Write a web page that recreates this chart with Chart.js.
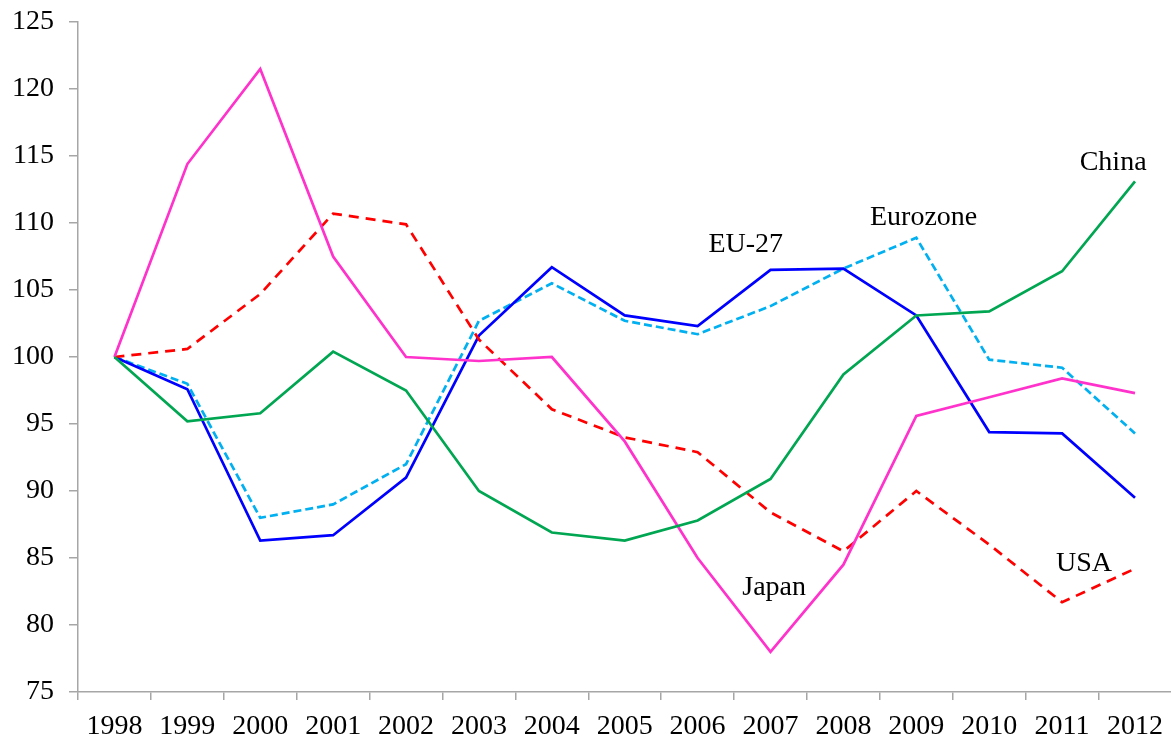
<!DOCTYPE html>
<html>
<head>
<meta charset="utf-8">
<script src="https://cdn.jsdelivr.net/npm/chart.js@4"></script>
<style>
  html, body { margin: 0; padding: 0; background: #fff; overflow: hidden; }
  #wrap { width: 1176px; height: 740px; }
</style>
</head>
<body>
<div id="wrap"><canvas id="chart"></canvas></div>
<script>
// DATA
const years = ["1998", "1999", "2000", "2001", "2002", "2003", "2004", "2005", "2006", "2007", "2008", "2009", "2010", "2011", "2012"];
const japan    = [100, 114.4, 121.5, 107.5, 100.0, 99.7, 100.0, 93.7, 85.0, 78.0, 84.5, 95.6, 97.0, 98.4, 97.3];
const usa      = [100, 100.6, 104.7, 110.7, 109.9, 101.3, 96.1, 94.0, 92.9, 88.4, 85.5, 90.0, 86.0, 81.7, 84.2];
const eu27     = [100, 97.6, 86.3, 86.7, 91.0, 101.6, 106.7, 103.1, 102.3, 106.5, 106.6, 103.1, 94.4, 94.3, 89.5];
const eurozone = [100, 98.0, 88.0, 89.0, 92.0, 102.7, 105.5, 102.7, 101.7, 103.8, 106.6, 108.9, 99.8, 99.2, 94.3];
const china    = [100, 95.2, 95.8, 100.4, 97.5, 90.0, 86.9, 86.3, 87.8, 90.9, 98.7, 103.1, 103.4, 106.4, 113.1];
const yTicks = [75, 80, 85, 90, 95, 100, 105, 110, 115, 120, 125];

// series name labels drawn inside the plot
const seriesLabels = ["China", "Eurozone", "EU-27", "Japan", "USA"];
const labelAt = [[13.7, 114.5], [11.1, 110.4], [8.66, 108.4], [9.05, 82.8], [13.3, 84.6]];

const FONT = "'Liberation Serif', 'Times New Roman', serif";
const AXIS = "#a6a6a6";

const textLabels = {
    id: "textLabels",
    afterDatasetsDraw(chart) {
        const { ctx, scales: { x, y } } = chart;
        ctx.save();
        ctx.font = "28px " + FONT;
        ctx.fillStyle = "#000";
        ctx.textAlign = "center";
        ctx.textBaseline = "middle";
        seriesLabels.forEach((t, i) => {
            const [xi, yv] = labelAt[i];
            ctx.fillText(t, x.getPixelForValue(xi), y.getPixelForValue(yv));
        });
        ctx.restore();
    }
};

function line(data, color, dash) {
    return {
        data,
        borderColor: color,
        borderWidth: 2.7,
        borderDash: dash || [],
        pointRadius: 0,
        tension: 0,
        fill: false
    };
}

new Chart(document.getElementById("chart"), {
    type: "line",
    data: {
        labels: years,
        datasets: [
            line(china, "#00a651"),
            line(japan, "#ff33cc"),
            line(usa, "#ff0000", [10, 7]),
            line(eu27, "#0000ff"),
            line(eurozone, "#00b0f0", [8, 4])
        ]
    },
    options: {
        responsive: true,
        maintainAspectRatio: false,
        animation: false,
        layout: { padding: { top: 0, left: -3, right: 0, bottom: -14 } },
        plugins: { legend: { display: false }, tooltip: { enabled: false } },
        scales: {
            x: {
                offset: true,
                grid: { offset: true, drawOnChartArea: false, color: AXIS, tickLength: 8, lineWidth: 1.5 },
                border: { color: AXIS, width: 1.5 },
                ticks: { color: "#000", font: { family: FONT, size: 28, lineHeight: 1 }, maxRotation: 0, autoSkip: false, padding: 13 }
            },
            y: {
                min: 75,
                max: 125,
                afterBuildTicks: s => { s.ticks = yTicks.map(v => ({ value: v })); },
                grid: { drawOnChartArea: false, color: AXIS, tickLength: 9, lineWidth: 1.5 },
                border: { color: AXIS, width: 1.5 },
                ticks: { color: "#000", font: { family: FONT, size: 28, lineHeight: 0.5 }, padding: 15 }
            }
        }
    },
    plugins: [textLabels]
});
</script>
</body>
</html>
